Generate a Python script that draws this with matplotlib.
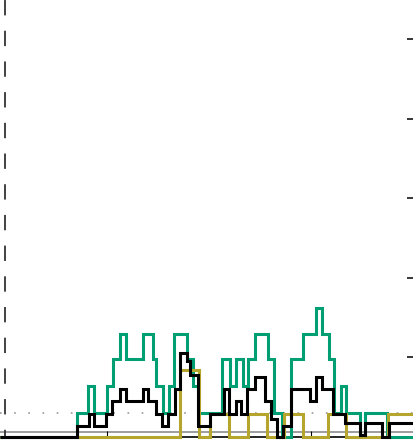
import matplotlib
matplotlib.use("Agg")
import matplotlib.pyplot as plt

# step edges (x) and levels (y)
green_edges = [0, 77, 88, 94, 107, 113, 120, 126, 143, 153, 156, 163, 169, 174, 187, 193, 198, 222, 230, 236,
               243, 248, 255, 268, 274, 282, 291, 303, 316, 322, 329, 334, 341, 346, 360, 365, 387, 413]
green_vals = [0, 0.3, 0.64, 0.3, 0.64, 0.98, 1.3, 0.98, 1.3, 0.98, 0.64, 0.3, 0.64, 1.3, 0.98, 0.64, 0.3, 0.98,
              0.64, 0.98, 0.64, 0.98, 1.3, 0.98, 0.3, 0, 0.98, 1.3, 1.62, 1.3, 0.98, 0.3, 0.64, 0.3, 0, 0.3, 0]

black_edges = [0, 77, 89, 94, 106, 112, 120, 126, 143, 148, 156, 162, 168, 175, 180, 187, 190, 198, 210, 224,
               229, 236, 241, 247, 255, 265, 271, 277, 283, 291, 310, 316, 322, 333, 345, 360, 365, 382, 389, 413]
black_vals = [0, 0.14, 0.29, 0.14, 0.29, 0.45, 0.6, 0.45, 0.6, 0.45, 0.29, 0.14, 0.29, 0.6, 1.05, 0.95, 0.78,
              0.14, 0.29, 0.6, 0.29, 0.45, 0.29, 0.6, 0.75, 0.45, 0.22, 0, 0.14, 0.6, 0.45, 0.75, 0.6, 0.29,
              0.17, 0.02, 0.17, 0, 0.17]

olive_edges = [0, 180, 199, 210, 229, 248, 267, 284, 303, 328, 346, 388, 413]
olive_vals = [0, 0.84, 0, 0.29, 0, 0.29, 0, 0.29, 0, 0.29, 0, 0.29]

yticks = [1, 2, 3, 4, 5]
xticks = [107, 209, 311]
ref_level = 0.3
base_level = 0.063

fig = plt.figure(figsize=(4.13, 4.41), dpi=100)
ax = fig.add_axes([0, 4 / 441, 1, 437 / 441])
ax.set_xlim(0, 413)
ax.set_ylim(0, 437 / 79.6)

ax.axhline(base_level, color="#8c8c8c", lw=1.2, zorder=1)
ax.axhline(ref_level, color="#999999", lw=1.2, ls=(0, (1, 7.5)), zorder=1)
ax.axvline(5, color="#333333", lw=1.3, ls=(4.5, (8.5, 8.5)), zorder=1)

ax.stairs(green_vals, green_edges, color="#009E73", lw=2.2, baseline=None, zorder=3, clip_on=False)
ax.stairs(olive_vals, olive_edges, color="#B5A52C", lw=2.2, baseline=None, zorder=4, clip_on=False)
ax.stairs(black_vals, black_edges, color="black", lw=2.2, baseline=None, zorder=5, clip_on=False)

for s in ["top", "left", "right"]:
    ax.spines[s].set_visible(False)
ax.spines["bottom"].set_linewidth(1.2)

ax.yaxis.tick_right()
ax.set_yticks(yticks)
ax.set_xticks(xticks)
ax.tick_params(axis="y", direction="in", length=4.5, width=1.1, labelright=False)
ax.tick_params(axis="x", direction="in", length=4, width=0.8, labelbottom=False)

fig.savefig("out.png", dpi=100)
